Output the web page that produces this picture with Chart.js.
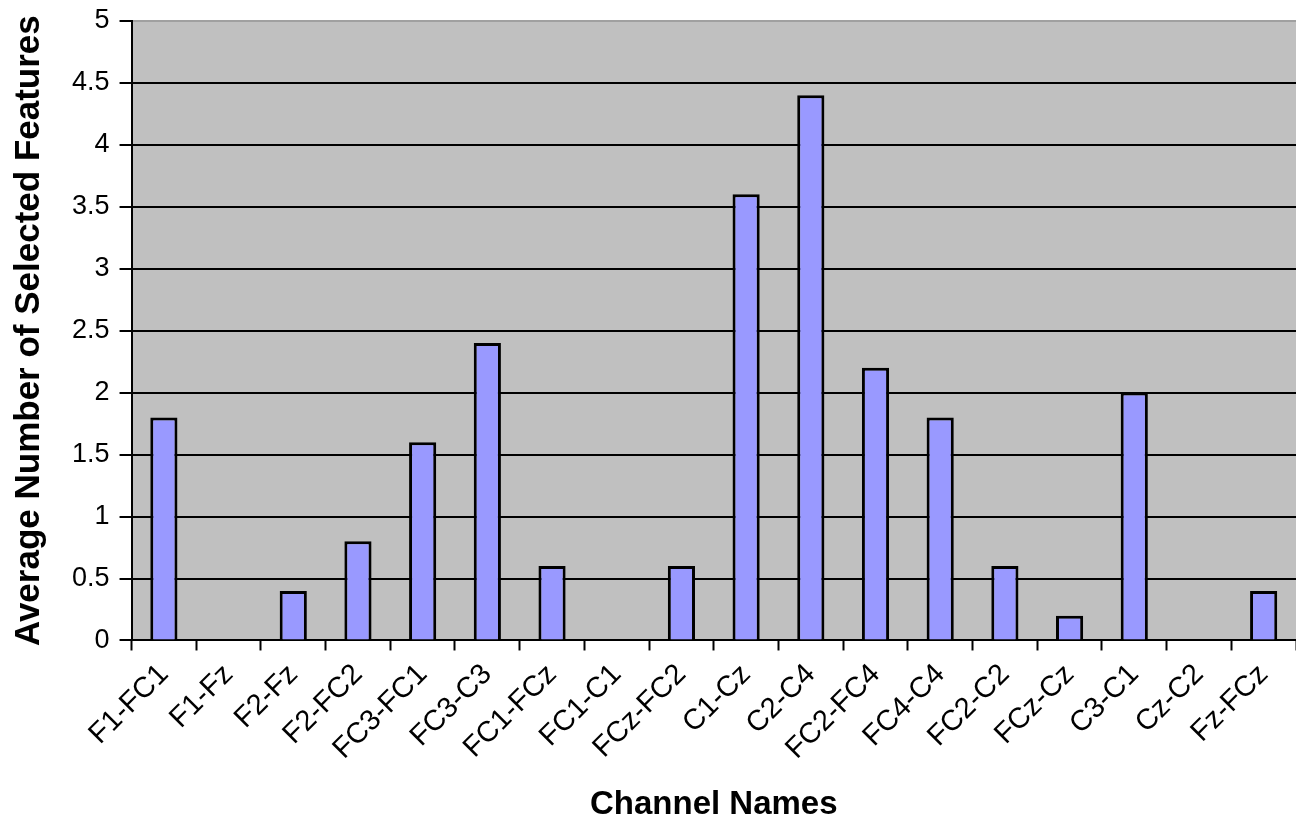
<!DOCTYPE html>
<html>
<head>
  <title>Average Number of Selected Features</title>
  <script src="https://cdn.jsdelivr.net/npm/chart.js"></script>
  <style>
    body { margin: 0; background: white; }
    #wrap { width: 1296px; height: 827px; }
  </style>
</head>
<body>
  <div id="wrap"><canvas id="featChart"></canvas></div>

  <script>
    const channels = ['F1-FC1', 'F1-Fz', 'F2-Fz', 'F2-FC2', 'FC3-FC1', 'FC3-C3', 'FC1-FCz', 'FC1-C1', 'FCz-FC2',
      'C1-Cz', 'C2-C4', 'FC2-FC4', 'FC4-C4', 'FC2-C2', 'FCz-Cz', 'C3-C1', 'Cz-C2', 'Fz-FCz'];
    const avgFeatures = [1.8, 0, 0.4, 0.8, 1.6, 2.4, 0.6, 0, 0.6, 3.6, 4.4, 2.2, 1.8, 0.6, 0.2, 2.0, 0, 0.4];
    const yTicks = [0, 0.5, 1, 1.5, 2, 2.5, 3, 3.5, 4, 4.5, 5];

    // grey plot background
    const plotBg = {
      id: 'plotBg',
      beforeDraw(chart) {
        const { ctx, chartArea: a } = chart;
        ctx.save();
        ctx.fillStyle = '#c0c0c0';
        ctx.fillRect(a.left, a.top, a.right - a.left, a.bottom - a.top);
        ctx.restore();
      }
    };

    const ctx = document.getElementById('featChart').getContext('2d');
    new Chart(ctx, {
      type: 'bar',
      data: {
        labels: channels,
        datasets: [{
          data: avgFeatures,
          backgroundColor: '#9999ff',
          borderColor: '#000',
          borderWidth: 3,
          categoryPercentage: 1,
          barPercentage: 0.42
        }]
      },
      options: {
        responsive: true,
        maintainAspectRatio: false,
        animation: false,
        layout: { padding: { top: 0, right: 0, left: 8, bottom: 2 } },
        plugins: { legend: { display: false }, tooltip: { enabled: false } },
        scales: {
          x: {
            grid: { drawOnChartArea: false, drawTicks: true, tickLength: 10, tickColor: '#000', tickWidth: 2 },
            border: { color: '#000', width: 2 },
            ticks: {
              color: '#000',
              font: { family: 'Liberation Sans', size: 29 },
              padding: 7,
              maxRotation: 45, minRotation: 45, autoSkip: false
            },
            title: {
              display: true, text: 'Channel Names', color: '#000',
              font: { family: 'Liberation Sans', size: 33, weight: 'bold' },
              padding: { top: 12, bottom: 0 }
            }
          },
          y: {
            min: 0, max: 5,
            afterBuildTicks(axis) { axis.ticks = yTicks.map(v => ({ value: v })); },
            grid: {
              color: c => c.tick && c.tick.value === 5 ? '#a0a0a0' : '#000',
              lineWidth: 2, tickLength: 12, tickColor: '#000', tickWidth: 2
            },
            border: { color: '#000', width: 2 },
            ticks: {
              color: '#000',
              font: { family: 'Liberation Sans', size: 27, lineHeight: 0.8 },
              padding: 10,
              callback: v => String(v)
            },
            title: {
              display: true, text: 'Average Number of Selected Features', color: '#000',
              font: { family: 'Liberation Sans', size: 35, weight: 'bold' },
              padding: { top: 0, bottom: 12 }
            }
          }
        }
      },
      plugins: [plotBg]
    });
  </script>
</body>
</html>
